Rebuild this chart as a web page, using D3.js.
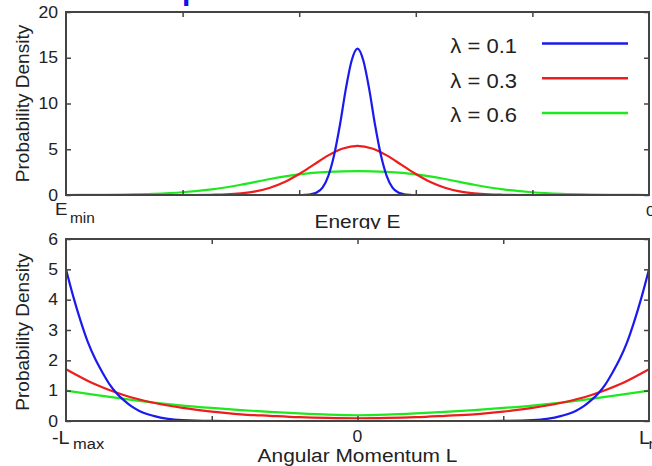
<!DOCTYPE html>
<html>
<head>
<meta charset="utf-8">
<script src="https://cdn.jsdelivr.net/npm/d3@7"></script>
<style>
html,body{margin:0;padding:0;background:#fff;}
svg{display:block;}
text{font-family:"Liberation Sans",Arial,Helvetica,sans-serif;fill:#222;}
</style>
</head>
<body>
<svg id="chart" width="652" height="466"></svg>
<script>
// ---------- DATA ----------
// Top panel: energy distribution, x from Emin (0) to 0 (1)
const energyTickValues = [0.2, 0.4, 0.6, 0.8];
const energyYTicks = [0, 5, 10, 15, 20];
const seriesLabels = ["λ = 0.1", "λ = 0.3", "λ = 0.6"];

const energyBlueX = [0, 0.38, 0.40, 0.41, 0.42, 0.43, 0.44, 0.45, 0.46, 0.47, 0.48, 0.49, 0.50,
  0.51, 0.52, 0.53, 0.54, 0.55, 0.56, 0.57, 0.58, 0.59, 0.60, 0.62, 1];
const energyBlue = [0, 0, 0, 0.02, 0.08, 0.27, 0.8, 2.1, 4.4, 7.7, 11.6, 14.7, 16,
  14.7, 11.6, 7.7, 4.4, 2.1, 0.8, 0.27, 0.08, 0.02, 0, 0, 0];

const energyRedX = [0, 0.2, 0.25, 0.275, 0.3, 0.325, 0.35, 0.375, 0.4, 0.425, 0.45, 0.475, 0.5,
  0.525, 0.55, 0.575, 0.6, 0.625, 0.65, 0.675, 0.7, 0.725, 0.75, 0.8, 1];
const energyRed = [0, 0, 0.03, 0.07, 0.18, 0.39, 0.79, 1.42, 2.29, 3.32, 4.33, 5.08, 5.36,
  5.08, 4.33, 3.32, 2.29, 1.42, 0.79, 0.39, 0.18, 0.07, 0.03, 0, 0];

const energyGreenX = [0, 0.05, 0.1, 0.15, 0.2, 0.25, 0.3, 0.35, 0.4, 0.45, 0.5,
  0.55, 0.6, 0.65, 0.7, 0.75, 0.8, 0.85, 0.9, 0.95, 1];
const energyGreen = [0, 0.015, 0.05, 0.13, 0.3, 0.62, 1.12, 1.75, 2.25, 2.52, 2.62,
  2.52, 2.25, 1.75, 1.12, 0.62, 0.3, 0.13, 0.05, 0.015, 0];

// Bottom panel: angular momentum distribution, x from -Lmax (-1) to Lmax (1)
const momentumTickValues = [-0.5, 0, 0.5];
const momentumYTicks = [0, 1, 2, 3, 4, 5, 6];

const momentumBlueX = [-1, -0.975, -0.95, -0.925, -0.9, -0.875, -0.85, -0.825, -0.8, -0.775, -0.75,
  -0.7, -0.65, -0.6, -0.5, -0.4, -0.2, 0, 0.2, 0.4, 0.5, 0.6, 0.65, 0.7,
  0.75, 0.775, 0.8, 0.825, 0.85, 0.875, 0.9, 0.925, 0.95, 0.975, 1];
const momentumBlue = [5.0, 4.1, 3.3, 2.6, 2.05, 1.6, 1.2, 0.9, 0.67, 0.48, 0.34,
  0.17, 0.07, 0.03, 0.005, 0, 0, 0, 0, 0, 0.005, 0.03, 0.07, 0.17,
  0.34, 0.48, 0.67, 0.9, 1.2, 1.6, 2.05, 2.6, 3.3, 4.1, 5.0];

const momentumX = [-1, -0.9, -0.8, -0.7, -0.6, -0.5, -0.4, -0.3, -0.2, -0.1, 0,
  0.1, 0.2, 0.3, 0.4, 0.5, 0.6, 0.7, 0.8, 0.9, 1];
const momentumRed = [1.71, 1.21, 0.85, 0.60, 0.43, 0.31, 0.22, 0.17, 0.125, 0.10, 0.09,
  0.10, 0.125, 0.17, 0.22, 0.31, 0.43, 0.60, 0.85, 1.21, 1.71];
const momentumGreen = [1.00, 0.86, 0.73, 0.61, 0.51, 0.43, 0.36, 0.30, 0.25, 0.21, 0.19,
  0.21, 0.25, 0.30, 0.36, 0.43, 0.51, 0.61, 0.73, 0.86, 1.00];

const colors = ["#1a1aee", "#ee1c1c", "#1ee81e"];

// ---------- DRAW ----------
const svg = d3.select("#chart");
const SX = 1.1; // horizontal text stretch of the original figure

function stext(parent, x, y, str, size, anchor) {
  return parent.append("text")
    .attr("transform", `translate(${x},${y}) scale(${SX},1)`)
    .attr("font-size", size)
    .attr("text-anchor", anchor || "start")
    .text(str);
}

const L = 66, R = 649;

function panel(cfg) {
  const g = svg.append("g");
  const x = d3.scaleLinear().domain(cfg.xDomain).range([L, R]);
  const y = d3.scaleLinear().domain(cfg.yDomain).range([cfg.bottom, cfg.top]);

  const line = d3.line().x(d => x(d[0])).y(d => y(d[1])).curve(d3.curveMonotoneX);
  const clipId = "clip" + cfg.id;
  svg.append("clipPath").attr("id", clipId).append("rect")
    .attr("x", L).attr("y", cfg.top - 2).attr("width", R - L).attr("height", cfg.bottom - cfg.top + 2);
  cfg.series.slice().reverse().forEach(s => {
    g.append("path")
      .datum(s.xs.map((v, i) => [v, s.ys[i]]))
      .attr("clip-path", `url(#${clipId})`)
      .attr("fill", "none")
      .attr("stroke", s.color)
      .attr("stroke-width", 2.2)
      .attr("d", line);
  });

  const tickStyle = sel => {
    sel.select(".domain").remove();
    sel.selectAll(".tick line").attr("stroke", "#444").attr("stroke-width", 1.5);
  };
  g.append("g").attr("transform", `translate(0,${cfg.bottom})`)
    .call(d3.axisBottom(x).tickValues(cfg.xTicks).tickSizeInner(-5).tickSizeOuter(0).tickFormat(""))
    .call(tickStyle);
  g.append("g").attr("transform", `translate(0,${cfg.top})`)
    .call(d3.axisTop(x).tickValues(cfg.xTicks).tickSizeInner(-5).tickSizeOuter(0).tickFormat(""))
    .call(tickStyle);
  const yAx = g.append("g").attr("transform", `translate(${L},0)`)
    .call(d3.axisLeft(y).tickValues(cfg.yTicks).tickFormat(d3.format("d"))
      .tickSizeInner(-5).tickSizeOuter(0).tickPadding(8))
    .call(tickStyle);
  yAx.selectAll(".tick text")
    .attr("x", -8 / SX)
    .attr("transform", `scale(${SX},1)`)
    .attr("font-size", 16)
    .attr("font-family", '"Liberation Sans",Arial,sans-serif')
    .attr("fill", "#222");
  g.append("g").attr("transform", `translate(${R},0)`)
    .call(d3.axisRight(y).tickValues(cfg.yTicks).tickSizeInner(-5).tickSizeOuter(0).tickFormat(""))
    .call(tickStyle);

  g.append("rect")
    .attr("x", L).attr("y", cfg.top)
    .attr("width", R - L).attr("height", cfg.bottom - cfg.top)
    .attr("fill", "none").attr("stroke", "#444").attr("stroke-width", 2);

  g.append("text")
    .attr("transform", `translate(29,${(cfg.top + cfg.bottom) / 2 + cfg.yTitleShift}) rotate(-90)`)
    .attr("text-anchor", "middle")
    .attr("font-size", 19)
    .text("Probability Density");

  return { g, x, y };
}

// blue fragment of a cut-off heading above the chart
svg.append("text")
  .attr("x", 182).attr("y", -0.5)
  .attr("font-family", '"Liberation Serif","Times New Roman",serif')
  .attr("font-weight", "bold")
  .attr("font-size", 30)
  .style("fill", "#1010ee")
  .text("p");

const topPanel = panel({
  id: "top", xDomain: [0, 1], yDomain: [0, 20], top: 12, bottom: 195,
  xTicks: energyTickValues, yTicks: energyYTicks, yTitleShift: 0,
  series: [
    { xs: energyBlueX, ys: energyBlue, color: colors[0] },
    { xs: energyRedX, ys: energyRed, color: colors[1] },
    { xs: energyGreenX, ys: energyGreen, color: colors[2] }
  ]
});

// top x labels
stext(svg, topPanel.x(0) - 11, 215, "E", 17, "start");
stext(svg, topPanel.x(0) + 4, 222.5, "min", 14, "start");
stext(svg, topPanel.x(1) - 3, 216, "0", 15, "start");
svg.append("clipPath").attr("id", "titleClip").append("rect")
  .attr("x", 0).attr("y", 200).attr("width", 652).attr("height", 29);
const titleG = svg.append("g").attr("clip-path", "url(#titleClip)");
stext(titleG, topPanel.x(0.5), 227.5, "Energy E", 19, "middle");

// legend
const legendY0 = 43.5, legendDY = 34.7;
const legend = topPanel.g.append("g");
seriesLabels.forEach((lab, i) => {
  const ly = legendY0 + i * legendDY;
  stext(legend, 517, ly + 9.5, lab, 20, "end");
  legend.append("line")
    .attr("x1", 542).attr("x2", 628)
    .attr("y1", ly).attr("y2", ly)
    .attr("stroke", colors[i]).attr("stroke-width", 2.5);
});

const bottomPanel = panel({
  id: "bot", xDomain: [-1, 1], yDomain: [0, 6], top: 239, bottom: 421,
  xTicks: momentumTickValues, yTicks: momentumYTicks, yTitleShift: 2,
  series: [
    { xs: momentumBlueX, ys: momentumBlue, color: colors[0] },
    { xs: momentumX, ys: momentumRed, color: colors[1] },
    { xs: momentumX, ys: momentumGreen, color: colors[2] }
  ]
});

// bottom x labels
stext(svg, bottomPanel.x(-1) - 14, 444, "-L", 18, "start");
stext(svg, bottomPanel.x(-1) + 7, 449, "max", 15, "start");
stext(svg, bottomPanel.x(0), 442, "0", 16, "middle");
stext(svg, bottomPanel.x(1) - 10, 443.5, "L", 18, "start");
stext(svg, bottomPanel.x(1) - 0.5, 449, "max", 15, "start");
stext(svg, bottomPanel.x(0), 462, "Angular Momentum L", 19, "middle");
</script>
</body>
</html>
